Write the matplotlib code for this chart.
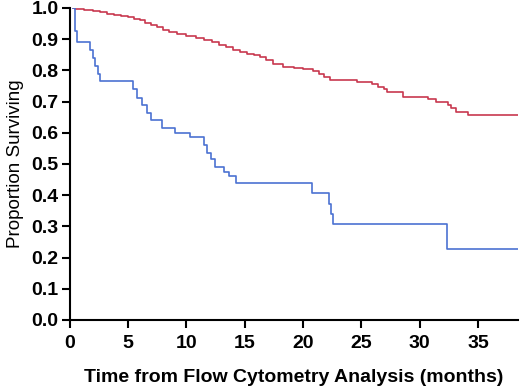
import matplotlib
matplotlib.use('Agg')
import matplotlib.pyplot as plt
import numpy as np

# Kaplan-Meier step curves (months, survival)
red_t = [0.0, 0.5, 1.2, 2.0, 2.6, 3.2, 3.8, 4.4, 5.0, 5.5, 6.0, 6.5, 7.0, 7.5,
         8.0, 8.5, 9.2, 10.0, 10.8, 11.5, 12.2, 12.8, 13.4, 14.0, 14.6, 15.2,
         15.8, 16.3, 16.8, 17.4, 18.3, 19.2, 20.0, 20.9, 21.4, 21.8, 22.3,
         24.6, 25.9, 26.4, 26.9, 27.2, 28.6, 30.7, 31.4, 32.4, 32.7, 33.1,
         34.1, 38.4]
red_s = [1.000, 0.997, 0.993, 0.990, 0.986, 0.982, 0.978, 0.975, 0.971, 0.966,
         0.960, 0.953, 0.946, 0.938, 0.930, 0.922, 0.917, 0.911, 0.905, 0.898,
         0.890, 0.882, 0.874, 0.866, 0.860, 0.854, 0.848, 0.842, 0.833, 0.822,
         0.810, 0.807, 0.803, 0.797, 0.788, 0.779, 0.769, 0.762, 0.755, 0.748,
         0.740, 0.732, 0.716, 0.707, 0.698, 0.689, 0.680, 0.668, 0.657, 0.657]

blue_t = [0.3, 0.45, 0.6, 1.75, 2.0, 2.2, 2.4, 2.6, 5.4, 5.8, 6.2, 6.6, 7.0,
          7.9, 9.0, 10.3, 11.5, 11.8, 12.1, 12.5, 13.2, 13.7, 14.3, 20.8,
          22.2, 22.4, 22.6, 32.3, 38.4]
blue_s = [1.000, 0.925, 0.890, 0.865, 0.840, 0.815, 0.790, 0.766, 0.740, 0.710,
          0.690, 0.665, 0.640, 0.615, 0.600, 0.585, 0.560, 0.535, 0.515, 0.490,
          0.475, 0.460, 0.440, 0.406, 0.371, 0.340, 0.307, 0.228, 0.228]
red_t[0] = 0.3

y_ticks = np.round(np.arange(0, 1.01, 0.1), 1)
x_ticks = [0, 5, 10, 15, 20, 25, 30, 35]

fig = plt.figure(figsize=(5.2, 3.9), dpi=100)
ax = fig.add_axes([0.1337, 0.1795, 0.862, 0.80])

ax.step(red_t, red_s, where='post', color='#c8384f', lw=1.2)
ax.step(blue_t, blue_s, where='post', color='#4c72d2', lw=1.2)

ax.set_xlim(0, 38.4)
ax.set_ylim(0, 1.0)
ax.set_xticks(x_ticks)
ax.set_yticks(y_ticks)
ax.set_yticklabels([f'{v:.1f}' for v in y_ticks])

for s in ['top', 'right']:
    ax.spines[s].set_visible(False)
for s in ['left', 'bottom']:
    ax.spines[s].set_linewidth(1.5)

ax.tick_params(direction='out', length=6, width=1.5)
ax.tick_params(axis='x', pad=5)
ax.tick_params(axis='y', pad=2)
for lab in ax.get_xticklabels() + ax.get_yticklabels():
    lab.set_fontfamily('Liberation Sans')
    lab.set_fontweight('bold')
    lab.set_fontsize(14)

ax.set_xlabel('Time from Flow Cytometry Analysis (months)', fontfamily='Liberation Sans',
              fontweight='bold', fontsize=14, labelpad=12)
ax.set_ylabel('Proportion Surviving', fontfamily='Liberation Sans', fontsize=13.5, labelpad=5)

fig.savefig('out.png', dpi=100)
